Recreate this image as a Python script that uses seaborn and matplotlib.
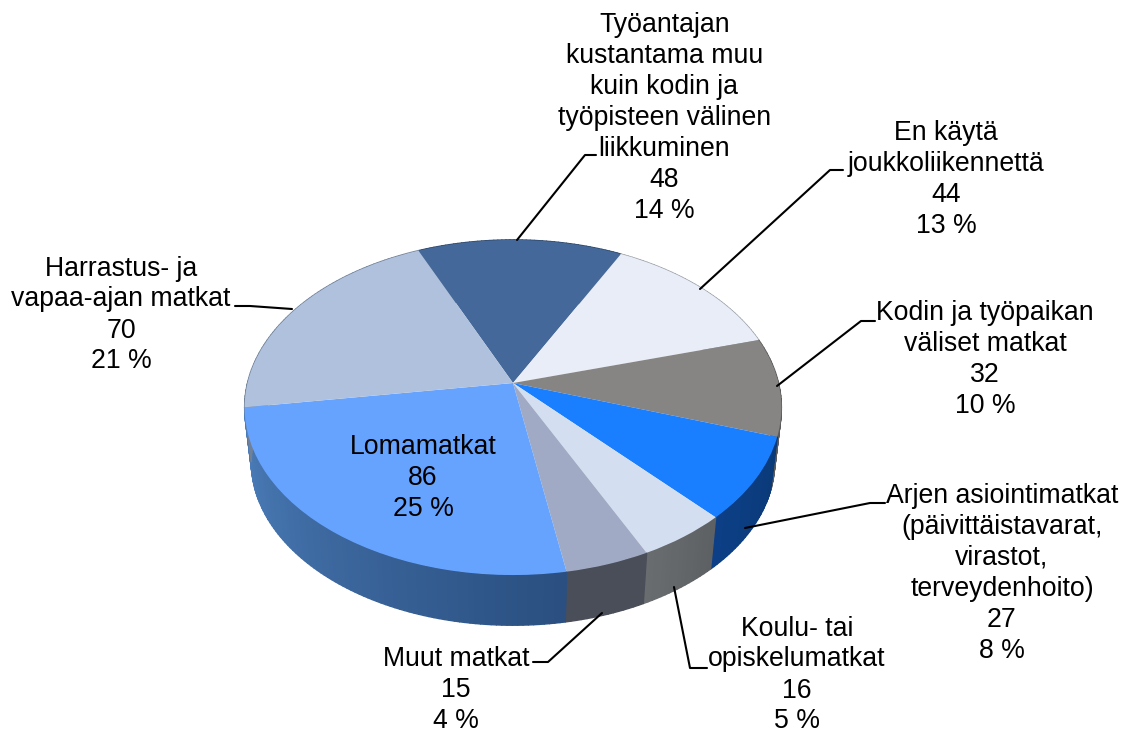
import numpy as np
import matplotlib
matplotlib.use("Agg")
import matplotlib.pyplot as plt
from matplotlib.collections import PolyCollection
from matplotlib.transforms import Transform
import seaborn as sns

labels = ["Työantajan\nkustantama muu\nkuin kodin ja\ntyöpisteen välinen\nliikkuminen",
          "En käytä\njoukkoliikennettä",
          "Kodin ja työpaikan\nväliset matkat",
          "Arjen asiointimatkat\n(päivittäistavarat,\nvirastot,\nterveydenhoito)",
          "Koulu- tai\nopiskelumatkat",
          "Muut matkat",
          "Lomamatkat",
          "Harrastus- ja\nvapaa-ajan matkat"]
values = [48, 44, 32, 27, 16, 15, 86, 70]
percents = ["14 %", "13 %", "10 %", "8 %", "5 %", "4 %", "25 %", "21 %"]
top_colors = ["#44689a", "#e8edf7", "#878584", "#1a7fff", "#d3dff0", "#a0aac4", "#66a3ff", "#afc1dc"]
wall_start = ["#2c4668", "#9da1a8", "#5c5c5c", "#0c3f86", "#6a6d70", "#4a4e58", "#4d7fbb", "#6f8098"]
wall_end = ["#2c4668", "#9da1a8", "#5a5a5a", "#0a3a78", "#5e6164", "#4a4e58", "#2a4f80", "#6f8098"]
label_pos = [(664.5, 118), (946, 179.5), (985, 359.5), (1002, 573.5), (797, 675), (456, 690), (423, 478), (121, 315)]
leaders = [[(596, 155), (585, 155), (517, 240)],
           [(843, 170), (830, 170), (700, 289)],
           [(875, 321), (861, 321), (777, 386)],
           [(885, 503), (870, 503), (745, 528)],
           [(707, 668), (690, 668), (674, 587)],
           [(533, 662), (548, 662), (602, 613)],
           None,
           [(235, 306), (250, 306), (292, 309)]]

CX, CY, RX, RY, PERSP = 513.0, 383.0, 265.5, 164.0, 0.146
BOTTOM_CY, BOTTOM_SCALE = 438.0, 0.975


def project(u, v, bottom=False):
    w = 1 + PERSP * v
    x, y = RX * u / w, -RY * v / w
    if bottom:
        return CX + BOTTOM_SCALE * x, BOTTOM_CY + BOTTOM_SCALE * y
    return CX + x, CY + y


class PieProjection(Transform):
    input_dims = output_dims = 2
    is_separable = False

    def transform_non_affine(self, values):
        values = np.asarray(values, dtype=float)
        x, y = project(values[:, 0], values[:, 1])
        return np.column_stack([x, y])


sns.set_theme(style="white")
plt.rcParams["font.family"] = ["Liberation Sans", "DejaVu Sans"]

fig = plt.figure(figsize=(11.28, 7.34), dpi=100)
ax = fig.add_axes([0, 0, 1, 1])
wedges, _ = ax.pie(values, colors=top_colors, startangle=113.8, counterclock=False,
                   wedgeprops={"linewidth": 0, "zorder": 3})
ax.set_aspect("auto")
ax.set_xlim(0, 1128)
ax.set_ylim(734, 0)
ax.set_axis_off()

proj = PieProjection()
for w in wedges:
    w.set_transform(proj + ax.transData)

quads, quad_colors = [], []
for w, c0, c1 in zip(wedges, wall_start, wall_end):
    n = max(4, int(w.theta2 - w.theta1))
    pal = sns.blend_palette([c0, c1], n)
    angs = np.radians(np.linspace(w.theta1, w.theta2, n + 1))
    for i in range(n):
        a0, a1 = angs[i], angs[i + 1]
        u, v = np.cos([a0, a1]), np.sin([a0, a1])
        xt, yt = project(u, v)
        xb, yb = project(u, v, True)
        quads.append([(xt[0], yt[0]), (xt[1], yt[1]), (xb[1], yb[1]), (xb[0], yb[0])])
        quad_colors.append(pal[i])
ax.add_collection(PolyCollection(quads, facecolors=quad_colors, edgecolors=quad_colors,
                                 linewidths=1.0, zorder=2))

for lab, val, pct, pos, lead in zip(labels, values, percents, label_pos, leaders):
    ax.text(pos[0], pos[1], f"{lab}\n{val}\n{pct}", ha="center", va="center",
            multialignment="center", fontsize=19.2, color="black", linespacing=1.25, zorder=5)
    if lead:
        xs, ys = zip(*lead)
        ax.plot(xs, ys, color="black", lw=1.5, zorder=4, solid_joinstyle="round")

fig.savefig("out.png", dpi=100, facecolor="white")
